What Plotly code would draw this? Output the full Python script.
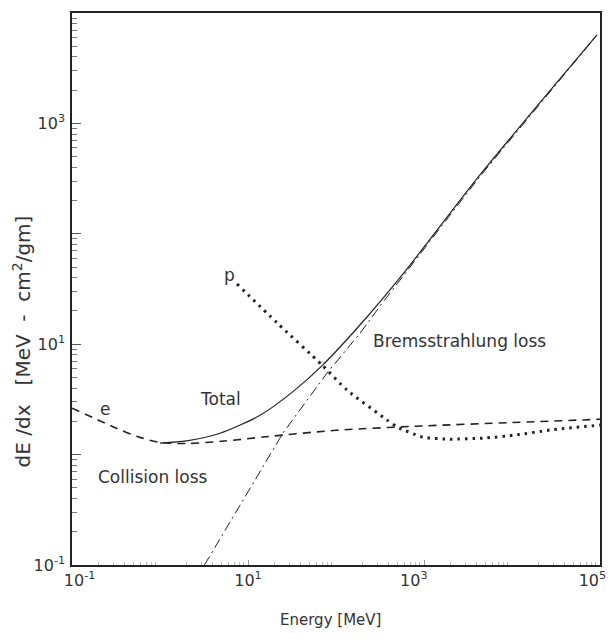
import plotly.graph_objects as go

# Energy grid points (MeV) and dE/dx values (MeV cm^2/g)
coll_E = [0.1, 0.178, 0.316, 0.562, 1, 2, 5, 16, 100, 1000, 1e4, 1e5]
coll_v = [2.63, 2.14, 1.74, 1.45, 1.29, 1.26, 1.32, 1.45, 1.66, 1.82, 1.95, 2.09]

total_E = [1, 2, 4.8, 13.7, 32.4, 71, 188, 600, 4325, 92500]
total_v = [1.27, 1.33, 1.56, 2.27, 3.72, 6.5, 15.0, 45.0, 341, 6324]

brems_E = [3.2, 25, 79, 188, 333, 4325, 92500]
brems_v = [0.1, 1.57, 5.48, 12.6, 23.4, 331, 6310]

p_E = [7.5, 21.4, 69.3, 133, 380, 493, 975, 1972, 4677, 11400, 27000, 1e5]
p_v = [35.1, 15.6, 6.49, 3.85, 2.06, 1.78, 1.44, 1.38, 1.41, 1.51, 1.67, 1.85]

NB = "\u00a0"
x_ticks = [0.1, 10, 1000, 100000]
x_ticktext = [NB * 3 + "10<sup>-1</sup>", "10<sup>1</sup>", "10<sup>3</sup>" + NB * 4,
              "10<sup>5</sup>" + NB * 3]
y_ticks = [0.1, 1, 10, 100, 1000, 10000]
y_ticktext = ["10<sup>-1</sup>", "", "10<sup>1</sup>", "", "10<sup>3</sup>", ""]

ink = "#222222"
txt_col = "#333333"
font = "DejaVu Sans"

fig = go.Figure()
fig.add_trace(go.Scatter(x=brems_E, y=brems_v, mode="lines",
                         line=dict(color=ink, width=1, dash="10px,4px,2px,4px"),
                         hoverinfo="skip"))
fig.add_trace(go.Scatter(x=coll_E, y=coll_v, mode="lines",
                         line=dict(color=ink, width=1.6, dash="8px,6px", shape="spline", smoothing=0.8),
                         hoverinfo="skip"))
fig.add_trace(go.Scatter(x=total_E, y=total_v, mode="lines",
                         line=dict(color=ink, width=1.2, shape="spline", smoothing=0.7),
                         hoverinfo="skip"))
fig.add_trace(go.Scatter(x=p_E, y=p_v, mode="lines",
                         line=dict(color=ink, width=3, dash="2.5px,5px", shape="spline", smoothing=0.6),
                         hoverinfo="skip"))

minor_vals = []
for d in range(-1, 5):
    for m in range(2, 10):
        minor_vals.append(m * 10 ** d)

fig.update_layout(
    width=598, height=623,
    margin=dict(l=64, r=6, t=5, b=66, autoexpand=False),
    paper_bgcolor="white", plot_bgcolor="white",
    showlegend=False,
    font=dict(family=font, size=15, color=txt_col),
    xaxis=dict(type="log", range=[-1, 5], showgrid=False, zeroline=False, automargin=False,
               showline=True, linecolor=ink, linewidth=1.5, mirror=True,
               ticks="inside", ticklen=5, tickcolor="#999999",
               tickvals=x_ticks, ticktext=x_ticktext, ticklabeloverflow="allow",
               tickfont=dict(family=font, size=16, color=txt_col),
               minor=dict(ticks="inside", ticklen=3, tickcolor="#bbbbbb", tickvals=minor_vals)),
    yaxis=dict(type="log", range=[-1, 4], showgrid=False, zeroline=False, automargin=False,
               showline=True, linecolor=ink, linewidth=1.5, mirror=True,
               ticks="inside", ticklen=9, tickcolor="#555555",
               tickvals=y_ticks, ticktext=y_ticktext, ticklabelstandoff=2,
               tickfont=dict(family=font, size=16, color=txt_col),
               minor=dict(ticks="inside", ticklen=5, tickcolor="#777777", tickvals=minor_vals)),
)

labels = [
    ("Total", 0.693, 0.504),
    ("Collision loss", -0.08, -0.203),
    ("Bremsstrahlung loss", 3.409, 1.029),
    ("e", -0.625, 0.413),
    ("p", 0.795, 1.627),
]
for txt, lx, ly in labels:
    fig.add_annotation(x=lx, y=ly, xref="x", yref="y", text=txt, showarrow=False,
                       xanchor="center", yanchor="middle",
                       font=dict(family=font, size=17, color=txt_col))

fig.add_annotation(x=-0.0947, y=0.405, xref="paper", yref="paper",
                   text="dE /dx   [MeV  -  cm<sup>2</sup>/gm]", textangle=-90, showarrow=False,
                   xanchor="center", yanchor="middle",
                   font=dict(family=font, size=20, color=txt_col))
fig.add_annotation(x=0.489, y=-0.0996, xref="paper", yref="paper",
                   text="Energy [MeV]", showarrow=False,
                   xanchor="center", yanchor="middle",
                   font=dict(family=font, size=15, color=txt_col))

fig.write_html("out.html")
